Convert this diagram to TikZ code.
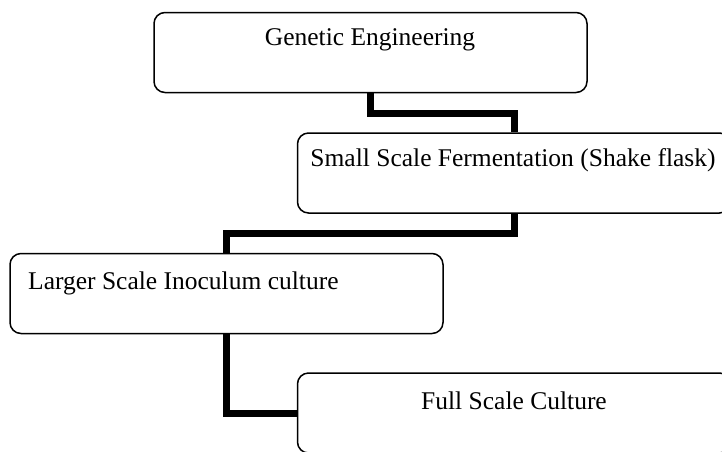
\documentclass[tikz,border=0pt]{standalone}
\usepackage{fontspec}
\setmainfont{Liberation Serif}
\usepackage{tikz}

\begin{document}
\begin{tikzpicture}[x=1pt, y=-1pt]
        \useasboundingbox (0, 0) rectangle (722, 451);
        \clip (0, 0) rectangle (722, 451);
        \tikzset{stage/.style={draw, line width=1.5pt, rounded corners=11pt, minimum width=433pt, minimum height=80pt, inner sep=0pt}};
        \tikzset{stagetext/.style={inner sep=0pt, font=\fontsize{25.5}{30}\selectfont}};
        \tikzset{link/.style={line width=7pt, line join=miter}};
        % boxes
        \node [stage] (gen) at (370.5, 52.5) {};
        \node [stage] (ferm) at (514, 173) {};
        \node [stage] (inoc) at (226.5, 293.5) {};
        \node [stage] (full) at (514, 413) {};
        % texts
        \node [stagetext, anchor=base] (gentext) at (370, 45) {Genetic Engineering};
        \node [stagetext, anchor=base] (fermtext) at (513, 166) {Small Scale Fermentation (Shake flask)};
        \node [stagetext, anchor=base west] (inoctext) at (28, 289) {Larger Scale Inoculum culture};
        \node [stagetext, anchor=base] (fulltext) at (514, 409) {Full Scale Culture};
        % connectors
        \draw [link] (gen.south) -- ++(0, 20.5) -| (ferm.north);
        \draw [link] (ferm.south) -- ++(0, 20) -| (inoc.north);
        \draw [link] (inoc.south) |- (full.west);
    \end{tikzpicture}
\end{document}
